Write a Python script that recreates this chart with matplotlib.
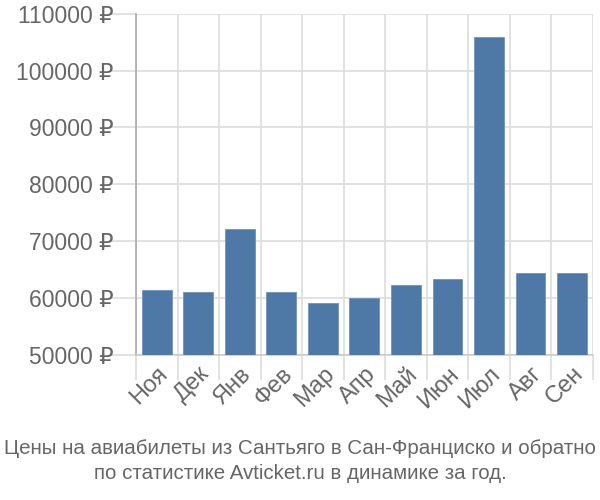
import matplotlib
matplotlib.use("Agg")
import matplotlib.pyplot as plt
import numpy as np

plt.rcParams['font.family'] = ['Liberation Sans', 'DejaVu Sans']

months = ["Ноя", "Дек", "Янв", "Фев", "Мар", "Апр", "Май", "Июн", "Июл", "Авг", "Сен"]
prices = [61370, 61070, 72100, 61070, 59000, 60000, 62250, 63250, 105900, 64360, 64360]
yticks = [50000, 60000, 70000, 80000, 90000, 100000, 110000]
title = "Цены на авиабилеты из Сантьяго в Сан-Франциско и обратно\nпо статистике Avticket.ru в динамике за год."

grid_col = "#dddddd"
text_col = "#666666"

fig = plt.figure(figsize=(6, 5), dpi=100)
ax = fig.add_axes([0.2267, 0.291, 0.7613, 0.681])

x = np.arange(len(months))
ax.bar(x, prices, width=0.72, bottom=0, color="#4e78a6", edgecolor="#6f93bd", linewidth=0.6, zorder=3)

ax.set_xlim(-0.5, len(months) - 0.5)
ax.set_ylim(yticks[0], yticks[-1])

ax.set_yticks(yticks)
ax.set_yticklabels([f"{v} ₽" for v in yticks])
ax.set_xticks(x)
ax.set_xticklabels(months, rotation=45, ha="right", rotation_mode="anchor")
ax.set_xticks(np.arange(len(months) + 1) - 0.5, minor=True)

ax.tick_params(axis="x", which="major", length=0, pad=6, labelsize=17, labelcolor=text_col)
ax.tick_params(axis="x", which="minor", length=18, color=grid_col, width=1.2)
ax.tick_params(axis="y", length=19, color=grid_col, width=1.2, pad=-3, labelsize=16.5, labelcolor=text_col)

ax.grid(True, axis="y", color=grid_col, linewidth=1.2, zorder=0)
ax.grid(True, axis="x", which="minor", color=grid_col, linewidth=1.2, zorder=0)

for side in ["top", "right"]:
    ax.spines[side].set_visible(False)
ax.spines["bottom"].set_color("#cccccc")
ax.spines["bottom"].set_linewidth(1.2)
ax.spines["left"].set_color("#aaaaaa")
ax.spines["left"].set_linewidth(1.2)
ax.spines["left"].set_bounds(yticks[0], yticks[-1])

fig.text(0.5, 0.078, title, ha="center", va="center", fontsize=14.8, color=text_col, linespacing=1.4)

fig.savefig("out.png", dpi=100)
